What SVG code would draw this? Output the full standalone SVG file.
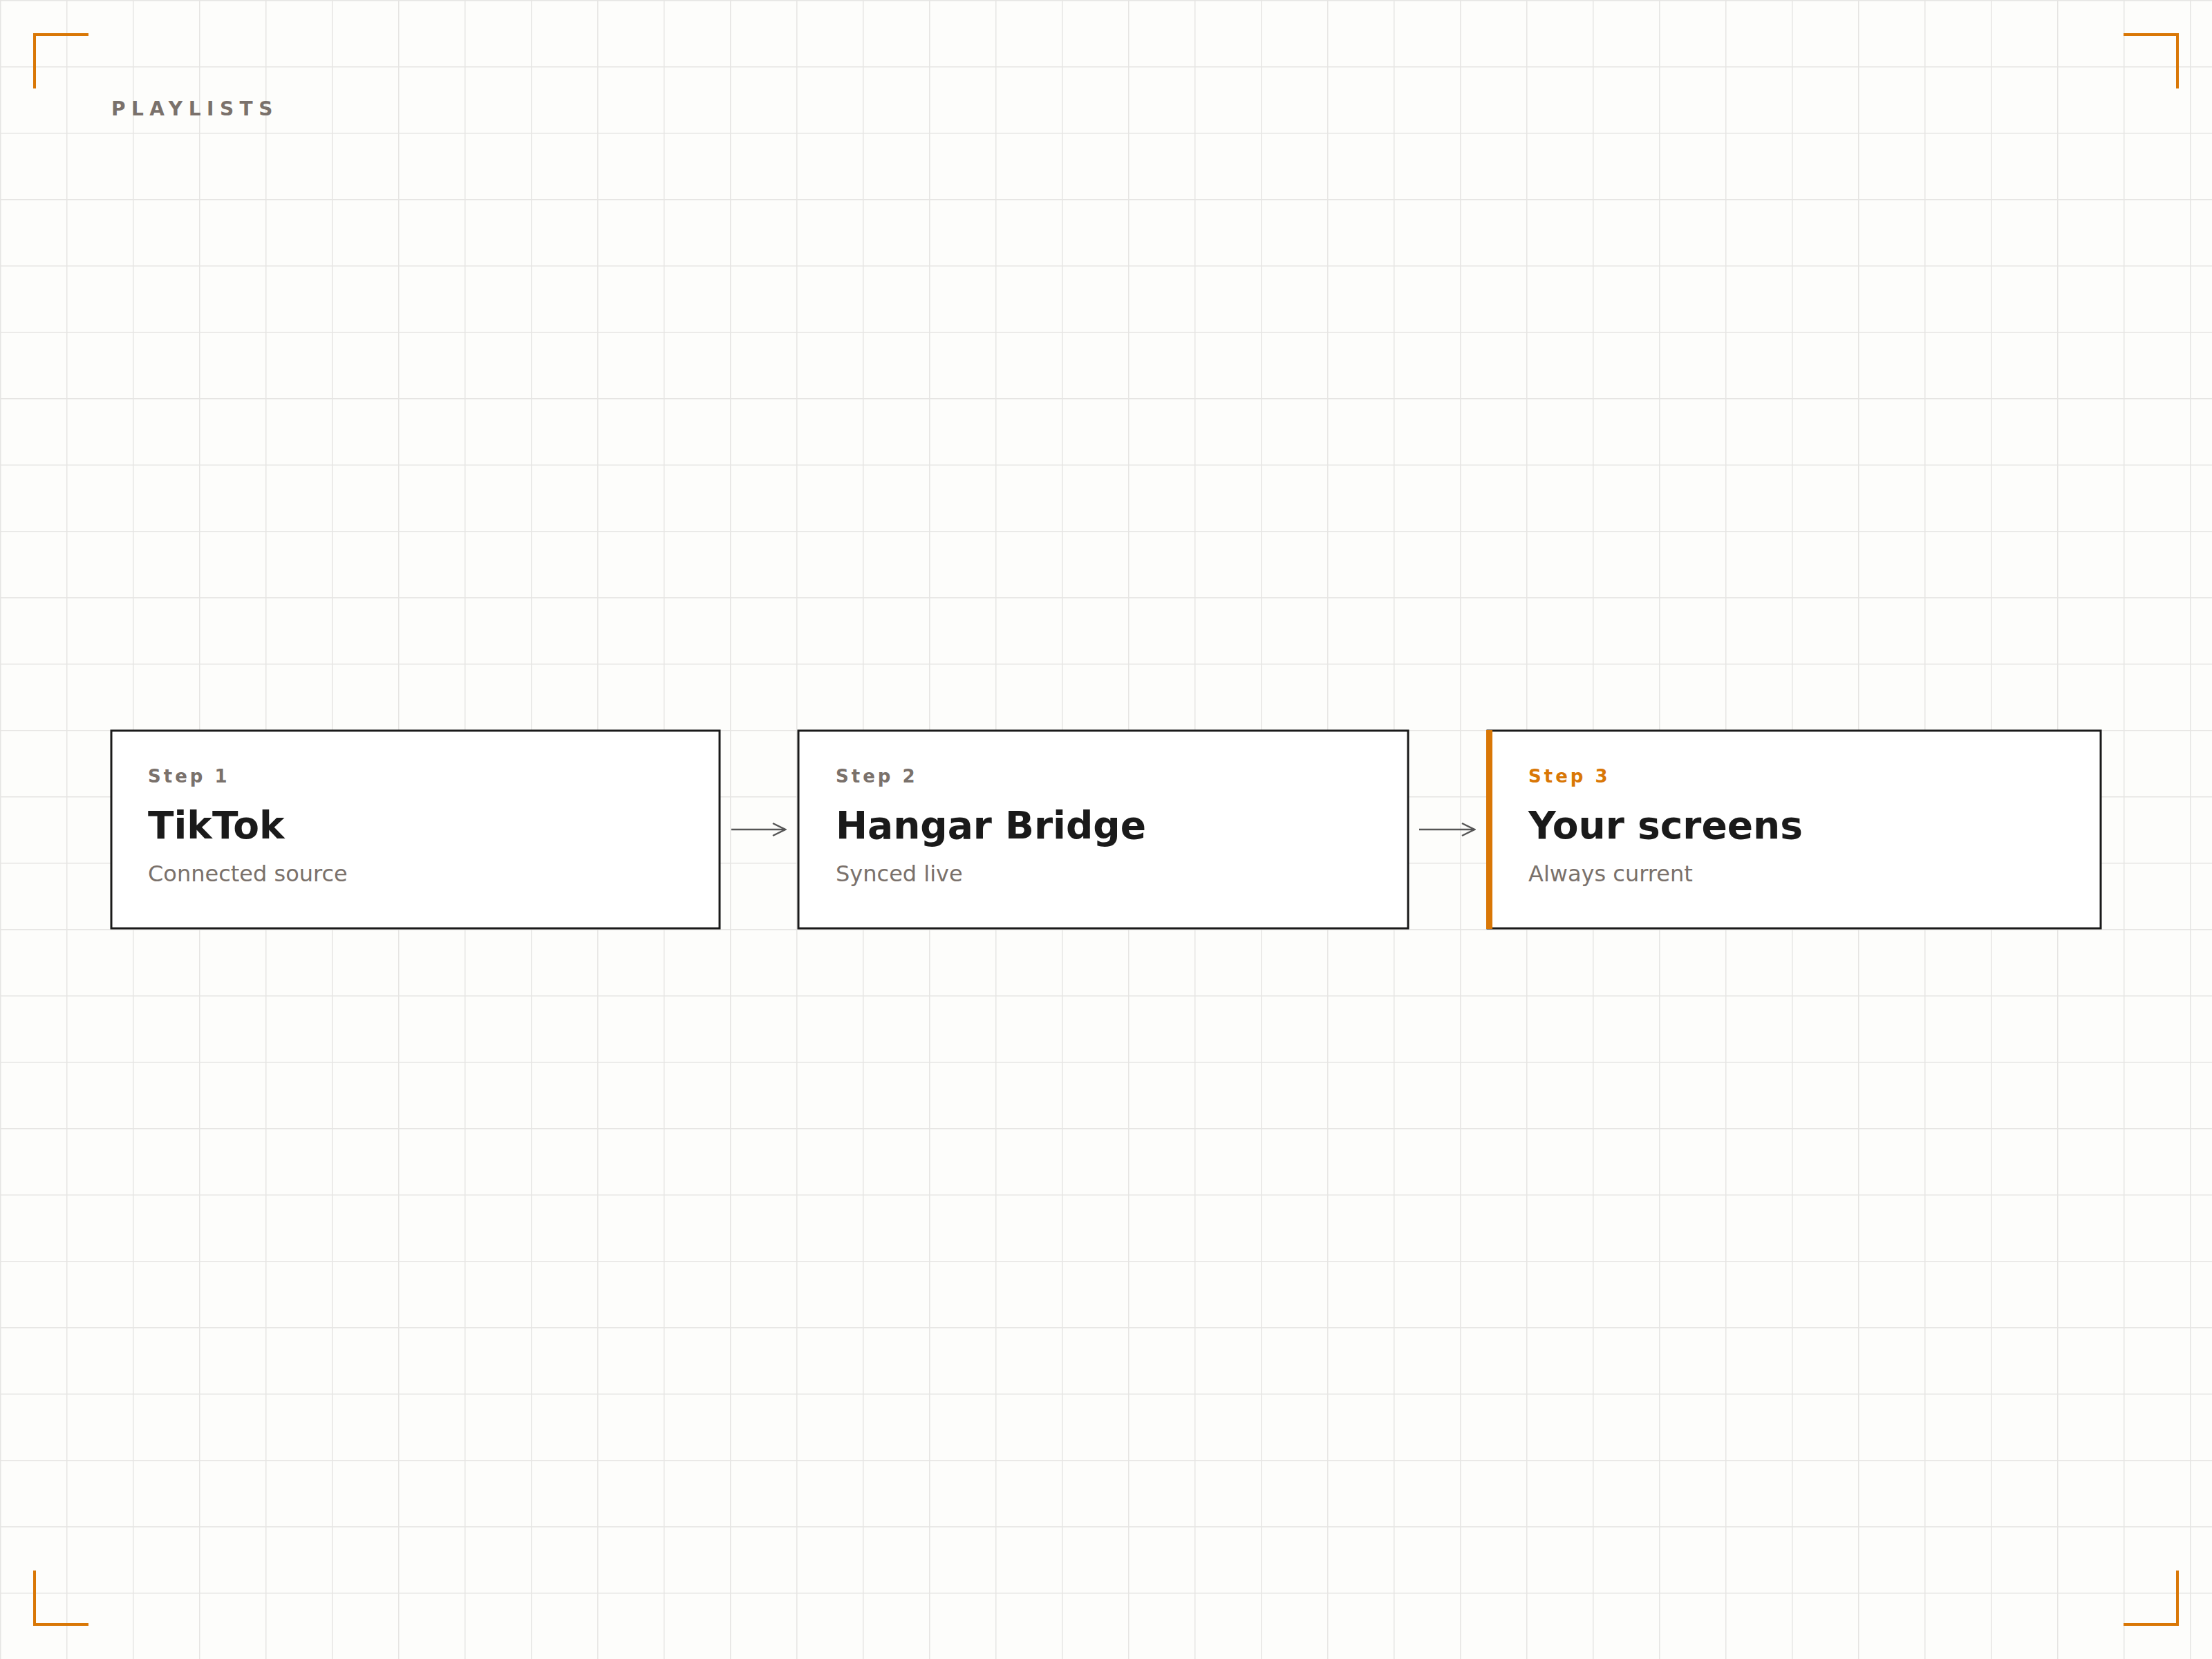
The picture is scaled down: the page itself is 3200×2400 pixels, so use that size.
<svg xmlns="http://www.w3.org/2000/svg" width="3200" height="2400" viewBox="0 0 3200 2400">
<defs>
<pattern id="grid" width="96" height="96" patternUnits="userSpaceOnUse">
<path d="M0 0H96M0 0V96" fill="none" stroke="#e6e5e3" stroke-width="3"/>
</pattern>
<marker id="arr" viewBox="0 0 24 24" refX="22" refY="12" markerWidth="24" markerHeight="24" markerUnits="userSpaceOnUse" orient="auto">
<path d="M4 3L22 12L4 21" fill="none" stroke="#555" stroke-width="2.5"/>
</marker>
</defs>
<style>
.box{fill:#fff;stroke:#1a1a1a;stroke-width:3}
.step{font-family:"DejaVu Sans",sans-serif;font-weight:bold;font-size:26px;letter-spacing:4px;fill:#7a716b}
.title{font-family:"DejaVu Sans",sans-serif;font-weight:bold;font-size:55px;fill:#1a1a1a}
.sub{font-family:"DejaVu Sans",sans-serif;font-size:32px;fill:#7a716b}
.corner{fill:none;stroke:#d97706;stroke-width:4}
.conn{stroke:#555;stroke-width:2.5;fill:none}
</style>
<rect width="3200" height="2400" fill="#fdfdfb"/>
<rect width="3200" height="2400" fill="url(#grid)"/>
<g id="corners">
<path class="corner" d="M50 128V50H128"/>
<path class="corner" d="M3072 50H3150V128"/>
<path class="corner" d="M50 2272V2350H128"/>
<path class="corner" d="M3072 2350H3150V2272"/>
</g>
<text x="161" y="167" font-family="DejaVu Sans,sans-serif" font-weight="bold" font-size="28" letter-spacing="8.5" fill="#7a716b">PLAYLISTS</text>
<g id="connectors">
<line class="conn" x1="1058" y1="1200" x2="1136" y2="1200" marker-end="url(#arr)"/>
<line class="conn" x1="2053" y1="1200" x2="2133" y2="1200" marker-end="url(#arr)"/>
</g>
<g id="step1">
<rect class="box" x="161" y="1057" width="880" height="286"/>
<text class="step" x="214" y="1132">Step 1</text>
<text class="title" x="214" y="1213">TikTok</text>
<text class="sub" x="214" y="1275">Connected source</text>
</g>
<g id="step2">
<rect class="box" x="1155" y="1057" width="882" height="286"/>
<text class="step" x="1209" y="1132">Step 2</text>
<text class="title" x="1209" y="1213">Hangar Bridge</text>
<text class="sub" x="1209" y="1275">Synced live</text>
</g>
<g id="step3">
<rect class="box" x="2152" y="1057" width="887" height="286"/>
<rect x="2150" y="1056" width="9" height="288" fill="#d97706"/>
<text class="step" x="2211" y="1132" style="fill:#d97706">Step 3</text>
<text class="title" x="2211" y="1213">Your screens</text>
<text class="sub" x="2211" y="1275">Always current</text>
</g>
</svg>
